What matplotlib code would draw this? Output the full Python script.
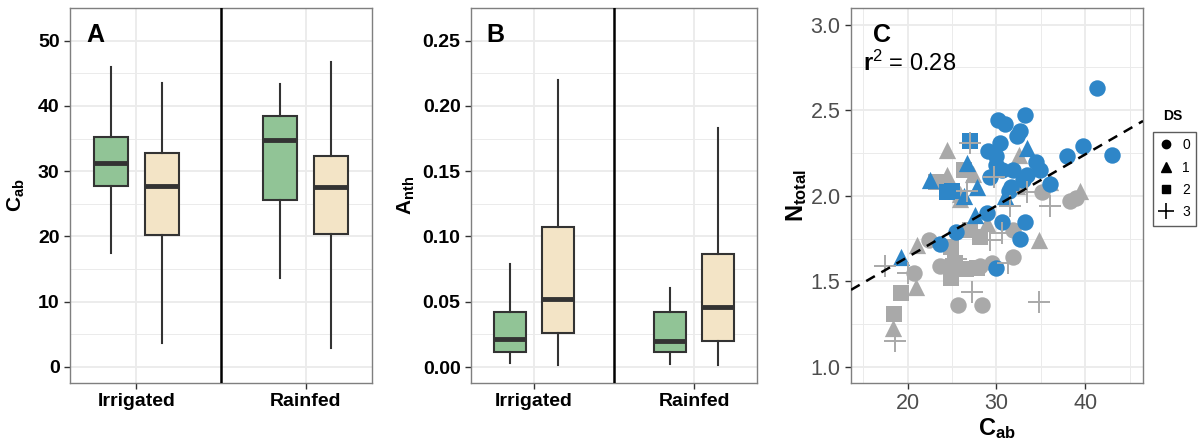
import matplotlib.pyplot as plt
from matplotlib.lines import Line2D

plt.rcParams['font.family'] = ['Liberation Sans', 'DejaVu Sans']
plt.rcParams['mathtext.fontset'] = 'custom'
plt.rcParams['mathtext.rm'] = 'Liberation Sans'
plt.rcParams['mathtext.bf'] = 'Liberation Sans:bold'
plt.rcParams['mathtext.it'] = 'Liberation Sans:italic'

groups = ["Irrigated", "Rainfed"]

# box stats: whisker low, q1, median, q3, whisker high
cab_green = [[17.5, 27.7, 31.3, 35.2, 45.9], [13.7, 25.6, 34.8, 38.5, 43.3]]
cab_beige = [[3.7, 20.2, 27.8, 32.8, 43.5], [2.9, 20.3, 27.6, 32.3, 46.7]]
anth_green = [[0.0034, 0.0119, 0.0212, 0.0419, 0.0789], [0.0024, 0.0114, 0.0200, 0.0419, 0.0609]]
anth_beige = [[0.0012, 0.0258, 0.0519, 0.1070, 0.2196], [0.0012, 0.0200, 0.0463, 0.0862, 0.1830]]

# panel C scatter (Cab, Ntotal), blue and grey groups by DS class
blue_ds0_x = [41.3, 33.2, 30.2, 31.0, 32.7, 32.3, 30.4, 29.1, 29.9, 30.0, 29.3, 30.6, 31.9, 33.4, 33.0,
              34.5, 34.9, 31.6, 31.4, 37.9, 39.8, 43.0, 36.0, 25.4, 28.9, 30.6, 33.2, 32.7, 30.0, 23.7]
blue_ds0_y = [2.63, 2.47, 2.44, 2.42, 2.38, 2.35, 2.31, 2.26, 2.23, 2.18, 2.11, 2.15, 2.15, 2.12, 2.09,
              2.20, 2.15, 2.05, 2.03, 2.23, 2.29, 2.24, 2.07, 1.79, 1.90, 1.85, 1.85, 1.75, 1.58, 1.72]
blue_ds1_x = [22.5, 19.2, 26.7, 27.8, 26.3, 31.0, 33.4, 27.6]
blue_ds1_y = [2.09, 1.64, 2.19, 2.05, 2.00, 2.00, 2.28, 1.89]
blue_ds2_x = [27.0, 24.4, 25.0]
blue_ds2_y = [2.32, 2.02, 2.03]
grey_ds0_x = [35.1, 38.3, 39.0, 31.9, 31.9, 29.5, 28.2, 25.7, 28.4, 22.4, 20.7, 23.7, 24.6]
grey_ds0_y = [2.02, 1.97, 1.99, 1.80, 1.64, 1.61, 1.59, 1.36, 1.36, 1.74, 1.55, 1.59, 1.59]
grey_ds1_x = [24.4, 32.5, 24.4, 27.4, 25.9, 32.3, 36.0, 39.4, 34.8, 21.1, 20.9, 18.3, 28.9, 25.9]
grey_ds1_y = [2.27, 2.24, 2.12, 2.13, 2.01, 2.06, 2.08, 2.03, 1.74, 1.71, 1.47, 1.23, 1.84, 1.98]
grey_ds2_x = [26.3, 23.2, 24.9, 24.9, 26.6, 19.3, 18.5, 27.0, 28.2, 25.3, 27.8]
grey_ds2_y = [2.15, 2.08, 1.70, 1.52, 1.57, 1.43, 1.31, 1.80, 1.76, 1.61, 1.58]
grey_ds3_x = [27.0, 29.7, 33.4, 31.5, 36.0, 30.6, 29.3, 31.3, 27.2, 34.8, 18.6, 17.5, 20.0, 26.7, 25.5]
grey_ds3_y = [2.31, 2.11, 2.02, 1.94, 1.94, 1.78, 1.74, 1.61, 1.44, 1.38, 1.15, 1.59, 1.55, 2.03, 1.63]

fit_intercept = 1.042
fit_slope = 0.0300
r2_text = "0.28"

GREEN = "#91C496"
BEIGE = "#F3E4C6"
BLUE = "#2E86C8"
GREY = "#A9A9A9"
GRID = "#EBEBEB"


def style_axes(ax):
    ax.set_facecolor("white")
    for s in ax.spines.values():
        s.set_color("#7F7F7F")
        s.set_linewidth(1.0)
    ax.grid(which="major", color=GRID, lw=1.3, zorder=0)
    ax.grid(which="minor", color=GRID, lw=0.7, zorder=0)
    ax.set_axisbelow(True)
    ax.tick_params(which="major", length=4, width=1, color="#333333")
    ax.tick_params(which="minor", length=0)


def box_panel(ax, green, beige, ylim, yticks, ylab, fmt, letter):
    style_axes(ax)
    pos = [1, 2]
    stats_g = [dict(whislo=s[0], q1=s[1], med=s[2], q3=s[3], whishi=s[4]) for s in green]
    stats_b = [dict(whislo=s[0], q1=s[1], med=s[2], q3=s[3], whishi=s[4]) for s in beige]
    for stats, off, col in [(stats_g, -0.15, GREEN), (stats_b, 0.15, BEIGE)]:
        ax.bxp(stats, positions=[p + off for p in pos], widths=0.2, patch_artist=True,
               showfliers=False, showcaps=False,
               boxprops=dict(facecolor=col, edgecolor="#333333", lw=1.5),
               whiskerprops=dict(color="#333333", lw=1.5),
               medianprops=dict(color="#333333", lw=3.5, solid_capstyle="butt"),
               zorder=3)
    ax.axvline(1.5, color="black", lw=1.8, zorder=4)
    ax.set_xlim(0.607, 2.393)
    ax.set_ylim(*ylim)
    ax.set_xticks(pos)
    ax.set_xticklabels(groups, fontsize=14, fontweight="bold")
    ax.set_yticks(yticks)
    ax.set_yticklabels([fmt.format(v) for v in yticks], fontsize=14, fontweight="bold")
    step = yticks[1] - yticks[0]
    ax.set_yticks([v + step / 2 for v in yticks[:-1]] + [yticks[-1] + step / 2], minor=True)
    ax.grid(which="minor", axis="x", visible=False)
    ax.set_ylabel(ylab, fontsize=15)
    ax.text(0.055, 0.96, letter, transform=ax.transAxes, fontsize=18, fontweight="bold",
            va="top", ha="left")


fig = plt.figure(figsize=(12, 4.47), dpi=100)
axA = fig.add_axes([0.0583, 0.1432, 0.2517, 0.839])
axB = fig.add_axes([0.3925, 0.1432, 0.2383, 0.839])
axC = fig.add_axes([0.7092, 0.1432, 0.2433, 0.839])

box_panel(axA, cab_green, cab_beige, (-2.45, 52.45), [0, 10, 20, 30, 40, 50],
          r"$\mathbf{C_{ab}}$", "{:.0f}", "A")
box_panel(axB, anth_green, anth_beige, (-0.0122, 0.2622), [0, 0.05, 0.10, 0.15, 0.20, 0.25],
          r"$\mathbf{A_{nth}}$", "{:.2f}", "B")
axA.yaxis.set_label_coords(-0.142, 0.5)
axB.yaxis.set_label_coords(-0.19, 0.5)

# panel C
style_axes(axC)
ms = 140
axC.scatter(grey_ds0_x, grey_ds0_y, s=ms, marker="o", color=GREY, lw=0, zorder=3)
axC.scatter(grey_ds1_x, grey_ds1_y, s=ms * 1.1, marker="^", color=GREY, lw=0, zorder=3)
axC.scatter(grey_ds2_x, grey_ds2_y, s=ms, marker="s", color=GREY, lw=0, zorder=3)
axC.scatter(blue_ds0_x, blue_ds0_y, s=ms, marker="o", color=BLUE, lw=0, zorder=3)
axC.scatter(blue_ds1_x, blue_ds1_y, s=ms * 1.1, marker="^", color=BLUE, lw=0, zorder=3)
axC.scatter(blue_ds2_x, blue_ds2_y, s=ms, marker="s", color=BLUE, lw=0, zorder=3)
axC.scatter(grey_ds3_x, grey_ds3_y, s=ms * 1.9, marker="+", color=GREY, lw=1.4, zorder=4)

xlim = (13.63, 46.5)
axC.plot(xlim, [fit_intercept + fit_slope * v for v in xlim], color="black", lw=1.8,
         ls=(0, (4, 3)), zorder=5)
axC.set_xlim(*xlim)
axC.set_ylim(0.907, 3.097)
axC.set_xticks([20, 30, 40])
axC.set_xticks([15, 25, 35, 45], minor=True)
axC.set_yticks([1.0, 1.5, 2.0, 2.5, 3.0])
axC.set_yticks([1.25, 1.75, 2.25, 2.75], minor=True)
axC.tick_params(axis="both", labelsize=15.5, labelcolor="#4D4D4D")
axC.set_xticklabels(["20", "30", "40"])
axC.set_yticklabels(["1.0", "1.5", "2.0", "2.5", "3.0"])
axC.set_xlabel(r"$\mathbf{C_{ab}}$", fontsize=17, labelpad=1)
axC.set_ylabel(r"$\mathbf{N_{total}}$", fontsize=17, labelpad=1)
axC.text(0.105, 0.96, "C", transform=axC.transAxes, fontsize=18, fontweight="bold",
         va="top", ha="center")
axC.text(0.04, 0.853, r"$\mathbf{r}^2$" + " = " + r2_text, transform=axC.transAxes,
         fontsize=17, va="center", ha="left")

handles = [
    Line2D([], [], marker="o", ls="none", color="black", ms=6),
    Line2D([], [], marker="^", ls="none", color="black", ms=7),
    Line2D([], [], marker="s", ls="none", color="black", ms=6),
    Line2D([], [], marker="+", ls="none", color="black", ms=11, mew=1.2),
]
leg = fig.legend(handles, ["0", "1", "2", "3"], loc="upper left",
                 bbox_to_anchor=(1153 / 1200, 1 - 132 / 447), frameon=True, fontsize=10,
                 handlelength=1.0, handletextpad=0.65, borderpad=0.45, labelspacing=0.6,
                 borderaxespad=0, fancybox=False)
leg.get_frame().set_edgecolor("#333333")
leg.get_frame().set_linewidth(1.0)
fig.text(1163 / 1200, 1 - 116 / 447, "DS", fontsize=10, fontweight="bold", va="center", ha="left")

fig.savefig("out.png", dpi=100)
